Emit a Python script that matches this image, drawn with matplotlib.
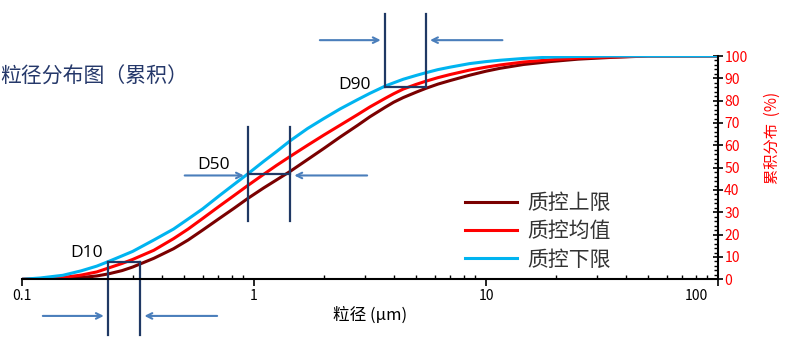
import matplotlib.pyplot as plt
from matplotlib.ticker import FixedLocator, MultipleLocator, NullFormatter
from matplotlib.transforms import ScaledTranslation

# 数据
sizes = [0.1, 0.12, 0.15, 0.18, 0.21, 0.235, 0.27, 0.3, 0.37, 0.45, 0.52, 0.6,
         0.71, 0.82, 0.94, 1.1, 1.25, 1.43, 1.7, 2.0, 2.35, 2.8, 3.16, 3.67,
         4.0, 4.4, 5.0, 5.5, 6.2, 7.0, 8.5, 10, 11.5, 14.5, 18.9, 25, 35, 50, 100]

lower = [0, 0.6, 1.8, 3.8, 5.9, 7.9, 10.5, 12.5, 17.6, 22.5, 27.0, 31.5,
         37.5, 42.5, 47.2, 52.8, 57.2, 62.0, 67.5, 72.0, 76.3, 80.5, 83.3, 86.5,
         88.0, 89.6, 91.3, 92.5, 93.9, 95.0, 96.6, 97.5, 98.1, 98.9, 99.5, 99.8,
         100, 100, 100]

mean = [0, 0.2, 0.8, 1.9, 3.3, 5.0, 7.1, 8.9, 13.0, 18.2, 22.5, 27.2,
        32.8, 37.5, 42.0, 47.0, 51.0, 55.0, 60.0, 64.6, 69.0, 73.8, 77.2, 81.0,
        83.1, 85.2, 87.3, 88.7, 90.3, 91.7, 93.7, 95.0, 96.0, 97.3, 98.3, 99.1,
        99.6, 100, 100]

upper = [0, 0.1, 0.35, 0.8, 1.5, 2.4, 3.9, 5.5, 9.4, 13.7, 17.6, 22.0,
         27.3, 31.8, 36.2, 40.9, 44.5, 48.3, 53.6, 58.6, 63.7, 69.0, 72.8, 77.0,
         79.3, 81.4, 83.8, 85.5, 87.4, 89.0, 91.4, 93.2, 94.5, 96.2, 97.5, 98.6,
         99.4, 100, 100]

labels = ['质控上限', '质控均值', '质控下限']
colors = ['#7a0000', '#ff0000', '#00b4f0']

# D10 / D50 / D90 标记
d_names = ['D10', 'D50', 'D90']
d_left = [0.235, 0.944, 3.67]
d_right = [0.323, 1.43, 5.5]
d_level = [7.9, 47.0, 86.2]
d_top = [7.9, 68.2, 118.8]
d_bottom = [-24.9, 26.1, 86.2]
arrow_y = [-16.4, 46.5, 107.1]
arrow_left_from = [0.1196, 0.489, 1.87]
arrow_right_from = [0.713, 3.16, 12.1]
d_text_pos = [(0.161, 11.8), (0.568, 51.2), (2.30, 86.8)]

plt.rcParams['font.family'] = ['Noto Sans CJK SC', 'DejaVu Sans']

fig = plt.figure(figsize=(8, 3.43), dpi=100)
ax = fig.add_axes([0.0275, 0.1857, 0.87, 0.651])

for ys, lab, c in zip([upper, mean, lower], labels, colors):
    ax.plot(sizes, ys, color=c, lw=2.2, label=lab, solid_joinstyle='round')

ax.set_xscale('log')
ax.set_xlim(0.1, 100)
ax.set_ylim(0, 100)

ax.spines['left'].set_visible(False)
ax.spines['top'].set_visible(False)
ax.spines['right'].set_linewidth(1.5)
ax.spines['bottom'].set_linewidth(1.5)

ax.yaxis.tick_right()
ax.yaxis.set_major_locator(MultipleLocator(10))
ax.yaxis.set_minor_locator(MultipleLocator(2))
ax.tick_params(axis='y', which='major', direction='inout', length=7, width=1.2,
               labelcolor='red', labelsize=10, pad=1)
ax.tick_params(axis='y', which='minor', direction='in', length=3, width=1)

ax.xaxis.set_major_locator(FixedLocator([0.1, 1, 10, 100]))
ax.set_xticklabels(['0.1', '1', '10', '100'])
ax.xaxis.set_minor_formatter(NullFormatter())
ax.tick_params(axis='x', which='major', direction='out', length=5, width=1.2,
               labelsize=10, pad=2)
ax.tick_params(axis='x', which='minor', direction='in', length=3, width=1)
lbl = ax.get_xticklabels()[-1]
lbl.set_transform(lbl.get_transform() + ScaledTranslation(-0.22, 0, fig.dpi_scale_trans))

ax.set_xlabel('粒径 (μm)', fontsize=12, labelpad=2)
ax.xaxis.set_label_coords(0.5, -0.12)

# 标记线
navy = '#1f3864'
arrow_c = '#4a7ebb'
for i in range(3):
    for xv in (d_left[i], d_right[i]):
        ax.plot([xv, xv], [d_bottom[i], d_top[i]], color=navy, lw=1.6, clip_on=False)
    ax.plot([d_left[i], d_right[i]], [d_level[i], d_level[i]], color=navy, lw=1.6,
            clip_on=False)
    ax.annotate('', xy=(d_left[i] * 0.985, arrow_y[i]), xytext=(arrow_left_from[i], arrow_y[i]),
                arrowprops=dict(arrowstyle='->', color=arrow_c, lw=1.5), annotation_clip=False)
    ax.annotate('', xy=(d_right[i] * 1.015, arrow_y[i]), xytext=(arrow_right_from[i], arrow_y[i]),
                arrowprops=dict(arrowstyle='->', color=arrow_c, lw=1.5), annotation_clip=False)
    ax.text(d_text_pos[i][0], d_text_pos[i][1], d_names[i], fontsize=12.5,
            family='Open Sans', color='black', va='center', ha='left')

ax.legend(loc='upper left', bbox_to_anchor=(465 / 800, 1 - 192 / 343),
          bbox_transform=fig.transFigure, frameon=False, fontsize=15,
          handlelength=2.5, handletextpad=0.5, labelspacing=0.3,
          borderpad=0, borderaxespad=0, labelcolor='#333333')

fig.text(0.0, 1 - 77 / 343, '粒径分布图（累积）', fontsize=15, color='#25386a',
         va='center', ha='left')
fig.text(772 / 800, 1 - 138 / 343, '累积分布  (%)', fontsize=11, color='red',
         rotation=90, va='center', ha='center')

fig.savefig('out.png', dpi=100)
